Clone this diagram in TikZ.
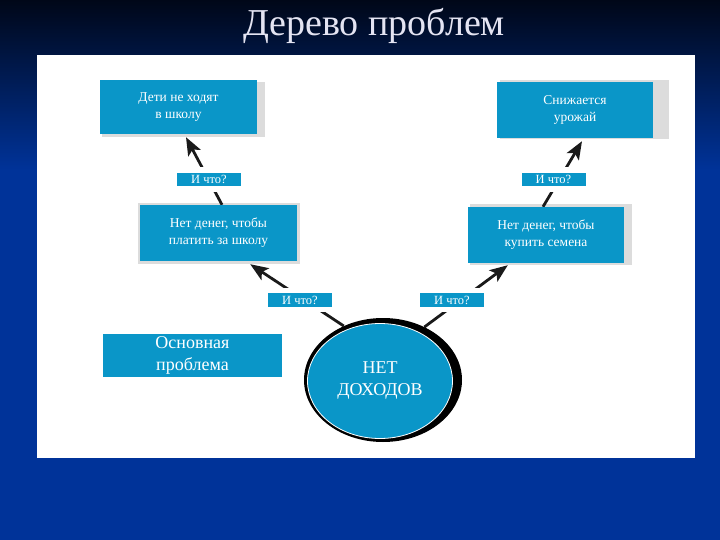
\documentclass[tikz,border=0pt]{standalone}
\usepackage{fontspec}
\setmainfont{Liberation Serif}
\usetikzlibrary{shapes.geometric,arrows.meta,calc}
\pgfdeclarelayer{back}
\pgfdeclarelayer{bg}
\pgfsetlayers{back,bg,main}
\definecolor{boxblue}{HTML}{0A96C8}
\definecolor{navytop}{HTML}{000718}
\definecolor{navybot}{HTML}{003399}
\definecolor{shadowgray}{HTML}{DCDCDC}
\definecolor{titlecol}{HTML}{E4E4F2}
\definecolor{linecol}{HTML}{1A1A1A}
\tikzset{
  box/.style={fill=boxblue, text=white, align=center, inner sep=0pt,
    font=\fontsize{13.5}{17}\selectfont},
  ask/.style={fill=boxblue, text=white, inner sep=0pt, minimum width=64pt,
    minimum height=13.5pt, font=\fontsize{12.5}{12.5}\selectfont,
    preaction={draw=white, line width=11pt}},
  conn/.style={draw=linecol, line width=2.8pt,
    -{Stealth[length=18pt,width=14pt,inset=4pt]}},
  shade/.style={fill=shadowgray}
}
\begin{document}
\begin{tikzpicture}[x=1pt,y=-1pt]
\useasboundingbox (0,0) rectangle (720,540);
\begin{pgfonlayer}{back}
  \fill[navybot] (0,0) rectangle (720,540);
  \shade[top color=navytop, bottom color=navybot] (0,0) rectangle (720,170);
  \fill[white] (37,55) rectangle (695,458);
  % box shadows
  \fill[shade] (102,82) rectangle (265,137);
  \fill[shade] (500,80) rectangle (669,139);
  \fill[shade] (138,203) rectangle (300,264);
  \fill[shade] (470,204) rectangle (632,265);
\end{pgfonlayer}

\node (title) [anchor=base, text=titlecol, font=\fontsize{38}{40}\selectfont]
  at (374,36) {Дерево проблем};

% boxes
\node (b1) [box, minimum width=157pt, minimum height=54pt] at (178.5,107)
  {Дети не ходят\\в школу};
\node (b3) [box, minimum width=156pt, minimum height=56pt] at (575,110)
  {Снижается\\урожай};
\node (b2) [box, minimum width=157pt, minimum height=56pt] at (218.5,233)
  {Нет денег, чтобы\\платить за школу};
\node (b4) [box, minimum width=156pt, minimum height=56pt] at (546,235)
  {Нет денег, чтобы\\купить семена};
\node (root) [box, minimum width=179pt, minimum height=43pt,
  font=\fontsize{18}{22}\selectfont] at (192.5,355)
  {Основная\\проблема};

% central ellipse
\node (eb) [ellipse, fill=black, minimum width=158pt, minimum height=124pt,
  inner sep=0pt] at (383,380) {};
\node (e) [ellipse, fill=boxblue, draw=white, line width=0.8pt,
  minimum width=145pt, minimum height=115pt, inner sep=0pt, text=white,
  align=center, font=\fontsize{18}{22}\selectfont] at (380,381)
  {НЕТ\\ДОХОДОВ};

% question labels
\node (q1) [ask] at (209,179.5) {И что?};
\node (q2) [ask] at (553.5,179.5) {И что?};
\node (q3) [ask] at (300,300) {И что?};
\node (q4) [ask] at (452,300) {И что?};

% connectors
\begin{pgfonlayer}{bg}
  \draw[conn] ($(b2.north)+(3.5,0)$) -- ($(b1.south)+(7.5,3)$);
  \draw[conn] ($(b4.north)+(-3,0)$) -- ($(b3.south)+(7,3)$);
  \draw[conn] (eb.126) -- ($(b2.south east)+(-47,3)$);
  \draw[conn] (eb.52) -- ($(b4.south west)+(40,2)$);
\end{pgfonlayer}
\end{tikzpicture}
\end{document}
